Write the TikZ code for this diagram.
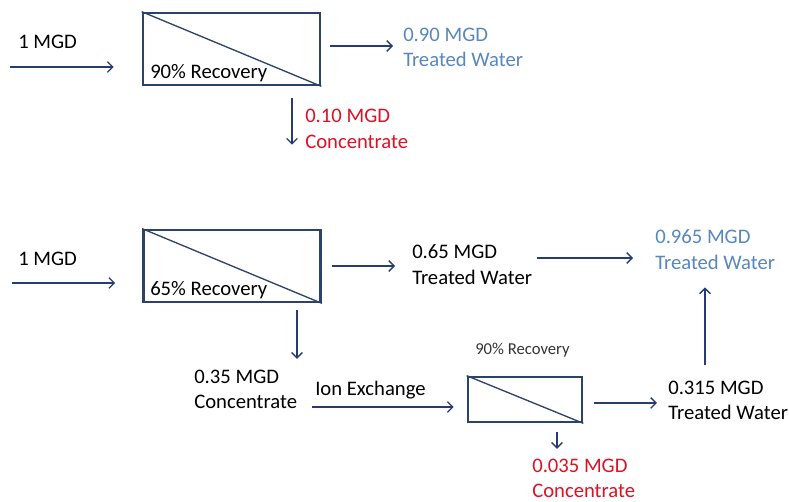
\documentclass[tikz,border=0pt]{standalone}
\usepackage{fontspec}
\setmainfont{Carlito}
\usetikzlibrary{positioning,arrows.meta}

\definecolor{pipeblue}{RGB}{40,60,115}
\definecolor{unitedge}{RGB}{44,66,104}
\definecolor{waterblue}{RGB}{88,134,190}
\definecolor{concred}{RGB}{222,16,36}

\begin{document}
\begin{tikzpicture}[
    x=0.75pt, y=-0.75pt,
    unit/.style={
        draw=unitedge,
        line width=2pt,
        minimum width=132.75pt,
        minimum height=54pt,
        inner sep=0pt
    },
    smallunit/.style={
        unit,
        minimum width=85.5pt,
        minimum height=33.75pt
    },
    lbl/.style={
        inner sep=0pt,
        anchor=west,
        align=left,
        font=\fontsize{15.5}{19}\selectfont
    },
    flow/.style={->, draw=pipeblue, line width=1pt},
    >={Straight Barb[length=4pt,width=8pt]}
]
\useasboundingbox (0,0) rectangle (789,502);

% upper train: single RO stage
\node[unit] (ro1) at (231.5,49) {};
\draw[unitedge, line width=1pt] (ro1.north west) -- (ro1.south east);
\node[lbl] (rec1) at (150,73) {90\% Recovery};

\node[lbl] (feed1lbl) at (18,42) {1 MGD};
\coordinate (feed1) at (10,67);

\node[lbl, text=waterblue] (out1) at (403,47.5) {0.90 MGD\\Treated Water};
\node[lbl, text=concred] (conc1) at (305,129) {0.10 MGD\\Concentrate};

\draw[flow, shorten >=21pt] (feed1) -- (feed1 -| ro1.west);
\draw[flow, shorten <=6.75pt, shorten >=7.5pt]
    ([yshift=2.25pt]ro1.east) -- ([yshift=2.25pt]ro1.east -| out1.west);
\coordinate (drop1) at ([xshift=45.4pt]ro1.south);
\draw[flow, shorten <=9pt, shorten >=3pt] (drop1) -- (drop1 |- conc1.south);

% lower train: RO, ion exchange, second RO
\node[unit] (ro2) at (232,266) {};
\draw[unitedge, line width=1pt] (ro2.north west) -- (ro2.south east);
\node[lbl] (rec2) at (150,290) {65\% Recovery};

\node[lbl] (feed2lbl) at (18,259) {1 MGD};
\coordinate (feed2) at (12,283);

\node[lbl] (out2) at (412,264.5) {0.65 MGD\\Treated Water};
\node[lbl, text=waterblue] (total) at (655,249.5) {0.965 MGD\\Treated Water};
\node[lbl] (conc2) at (194,389.5) {0.35 MGD\\Concentrate};
\node[lbl] (ionx) at (315,390) {Ion Exchange};

\node[smallunit] (ro3) at (525,399.5) {};
\draw[unitedge, line width=1pt] (ro3.north west) -- (ro3.south east);
\node[lbl, font=\fontsize{12.5}{14}\selectfont, text=black!80] (rec3) at (475,350) {90\% Recovery};

\node[lbl] (out3) at (668,400.5) {0.315 MGD\\Treated Water};
\node[lbl, text=concred] (conc3) at (532,478.5) {0.035 MGD\\Concentrate};

\draw[flow, shorten >=20.25pt] (feed2) -- (feed2 -| ro2.west);
\draw[flow, shorten <=7.5pt, shorten >=12.75pt] (ro2.east) -- (ro2.east -| out2.west);
\coordinate (merge) at ([yshift=4.875pt]out2.east);
\draw[flow, shorten <=3.75pt, shorten >=16.5pt] (merge) -- (merge -| total.west);
\coordinate (drop2) at ([xshift=48.75pt]ro2.south);
\draw[flow, shorten <=5.25pt, shorten >=8.25pt] (drop2) -- (drop2 |- conc2.north);
\coordinate (ixin) at ([yshift=-5.6pt]ro3.west);
\draw[flow, shorten <=11.25pt, shorten >=9.75pt] (ixin -| conc2.east) -- (ixin);
\draw[flow, shorten <=8.25pt, shorten >=8.25pt]
    ([yshift=-2.6pt]ro3.east) -- ([yshift=-2.6pt]ro3.east -| out3.west);
\coordinate (drop3) at ([xshift=24pt]ro3.south);
\draw[flow, shorten <=6.75pt, shorten >=7.5pt] (drop3) -- (drop3 |- conc3.north);
\coordinate (rise) at ([xshift=27.75pt]out3.north west);
\draw[flow, shorten <=12pt, shorten >=13.5pt] (rise) -- (rise |- total.south);

\end{tikzpicture}
\end{document}
